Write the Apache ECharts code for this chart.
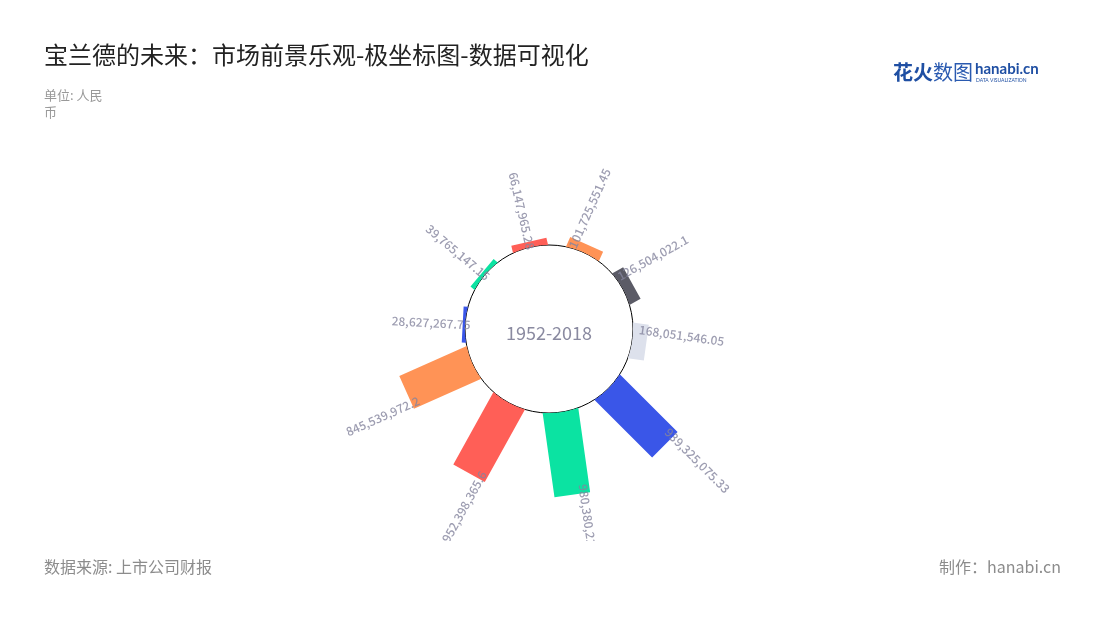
<!DOCTYPE html>
<html><head><meta charset="utf-8">
<script src="https://cdn.jsdelivr.net/npm/echarts@6/dist/echarts.min.js"></script>
<style>
html,body{margin:0;padding:0;background:#fff;width:1100px;height:620px;overflow:hidden}
#main{position:absolute;left:0;top:0;width:1100px;height:541px}
#foot{position:absolute;left:0;top:541px;width:1100px;height:79px}
</style></head><body>
<div id="main"></div><div id="foot"></div>
<script>
const titleText = '宝兰德的未来：市场前景乐观-极坐标图-数据可视化';
const unitText = '单位: 人民币';
const centerText = '1952-2018';
const sourceText = '数据来源: 上市公司财报';
const creditText = '制作：hanabi.cn';
const slots = [0, 1, 2, 3, 4, 5, 6, 7, 8, 9];
const values = [28627267.75, 39765147.15, 66147965.28, 101725551.45, 126504022.1, 168051546.05, 939325075.33, 980380212.5, 952398365.6, 845539972.2];
const palette = ['#3a56e8', '#0be3a2', '#ff5f57', '#ff9356', '#5b5b66', '#dde1ec'];

const FONT = '"Noto Sans CJK SC", "Noto Sans", sans-serif';
const fmt = v => v.toLocaleString('en-US', {maximumFractionDigits: 2});
const pairs = slots.map((s, i) => [values[i], s]);
const BAR_HALF = 18;

function renderBar(params, api) {
  const cs = params.coordSys;
  const cx = cs.cx, cy = cs.cy, r0 = cs.r0;
  const v = api.value(0), slot = api.value(1);
  const pa = api.coord([0, slot]);
  const pb = api.coord([v, slot]);
  const ux = (pa[0] - cx) / r0, uy = (pa[1] - cy) / r0;
  const nx = -uy, ny = ux;
  const d = r0 + Math.hypot(pb[0] - pa[0], pb[1] - pa[1]);
  const hw = BAR_HALF;
  const s = Math.sqrt(r0 * r0 - hw * hw);
  const pts = [[cx + ux * d + nx * hw, cy + uy * d + ny * hw]];
  const a0 = Math.atan2(uy * s + ny * hw, ux * s + nx * hw);
  const a1 = Math.atan2(uy * s - ny * hw, ux * s - nx * hw);
  let da = a1 - a0;
  while (da > Math.PI) da -= 2 * Math.PI;
  while (da < -Math.PI) da += 2 * Math.PI;
  for (let k = 0; k <= 16; k++) {
    const a = a0 + da * k / 16;
    pts.push([cx + r0 * Math.cos(a), cy + r0 * Math.sin(a)]);
  }
  pts.push([cx + ux * d - nx * hw, cy + uy * d - ny * hw]);
  return {type: 'polygon', shape: {points: pts}, style: {fill: api.visual('color')}};
}

const chart = echarts.init(document.getElementById('main'), null, {renderer: 'canvas'});
const noAxis = {axisLine: {show: false}, axisTick: {show: false}, axisLabel: {show: false}, splitLine: {show: false}};
const option = {
  backgroundColor: '#fff',
  color: palette,
  textStyle: {fontFamily: FONT},
  title: [
    {text: titleText, left: 44, top: 43, padding: 0,
     textStyle: {fontSize: 24, fontWeight: 'normal', color: '#222', fontFamily: FONT}},
    {text: unitText, left: 44, top: 87, padding: 0,
     textStyle: {fontSize: 13, fontWeight: 'normal', color: '#999', lineHeight: 17, width: 66, overflow: 'break', fontFamily: FONT}}
  ],
  polar: [
    {center: [549, 329], radius: [84, 169]},
    {center: [549, 329], radius: 84}
  ],
  angleAxis: [
    Object.assign({polarIndex: 0, type: 'value', min: 0, max: 9.73, startAngle: 177, clockwise: true}, noAxis),
    Object.assign({polarIndex: 1, type: 'value', min: 0, max: 1, startAngle: 90}, noAxis,
      {axisLine: {show: true, lineStyle: {color: '#000', width: 1}}})
  ],
  radiusAxis: [
    Object.assign({polarIndex: 0, type: 'value', min: 0, max: 1000000000}, noAxis),
    Object.assign({polarIndex: 1, type: 'value', min: 0, max: 1}, noAxis)
  ],
  graphic: [
    {type: 'text', x: 549, y: 333, z: 10, style: {text: centerText, fill: '#8a8aa0', fontSize: 18, fontFamily: FONT, align: 'center', verticalAlign: 'middle'}},
    {type: 'text', x: 893, y: 72, style: {
      text: '{a|花火}{b|数图}', fontFamily: FONT, verticalAlign: 'middle',
      rich: {a: {fill: '#1f4fa3', fontSize: 20, fontWeight: 'bold', fontFamily: FONT},
             b: {fill: '#2a5ab0', fontSize: 20, fontWeight: 'normal', fontFamily: FONT}}}},
    {type: 'text', x: 975, y: 69, style: {text: 'hanabi.cn', fill: '#1f4fa3', fontSize: 15, fontWeight: 'bold', fontFamily: 'Lato, sans-serif', verticalAlign: 'middle'}},
    {type: 'text', x: 976, y: 80, style: {text: 'DATA VISUALIZATION', fill: '#1f4fa3', fontSize: 5, fontFamily: 'Lato, sans-serif', verticalAlign: 'middle'}}
  ],
  series: [
    {type: 'custom', coordinateSystem: 'polar', polarIndex: 0, colorBy: 'data', silent: true,
     encode: {radius: 0, angle: 1}, renderItem: renderBar, data: pairs},
    {type: 'scatter', coordinateSystem: 'polar', polarIndex: 0, symbolSize: 0, silent: true, z: 5,
     data: pairs}
  ]
};
chart.setOption(option);

// label orientation from the library's own coordinate conversion
const labelled = pairs.map((p, i) => {
  const end = chart.convertToPixel({seriesIndex: 1}, p);
  const base = chart.convertToPixel({seriesIndex: 1}, [0, p[1]]);
  const ang = Math.atan2(-(end[1] - base[1]), end[0] - base[0]) * 180 / Math.PI;
  const cosA = Math.cos(ang * Math.PI / 180), sinA = Math.sin(ang * Math.PI / 180);
  const right = cosA >= 0;
  let off;
  if (right) off = [-9, -12];
  else if (sinA > 0) off = [8, 0];
  else off = [8, 12];
  return {
    value: p,
    label: {
      show: true, position: 'inside', verticalAlign: 'middle',
      align: right ? 'left' : 'right',
      rotate: right ? ang : ang - 180,
      offset: off,
      formatter: fmt(values[i]),
      color: '#84849d', fontSize: 12, fontWeight: 500, fontFamily: FONT
    }
  };
});
chart.setOption({series: [{}, {data: labelled}]});

const foot = echarts.init(document.getElementById('foot'), null, {renderer: 'canvas'});
foot.setOption({
  backgroundColor: '#fff',
  graphic: [
    {type: 'text', x: 44, y: 26, style: {text: sourceText, fill: '#8c8c8c', fontSize: 16, fontFamily: FONT, verticalAlign: 'middle'}},
    {type: 'text', x: 1061, y: 26, style: {text: creditText, fill: '#8c8c8c', fontSize: 16, fontFamily: FONT, align: 'right', verticalAlign: 'middle'}}
  ]
});
</script>
</body></html>
